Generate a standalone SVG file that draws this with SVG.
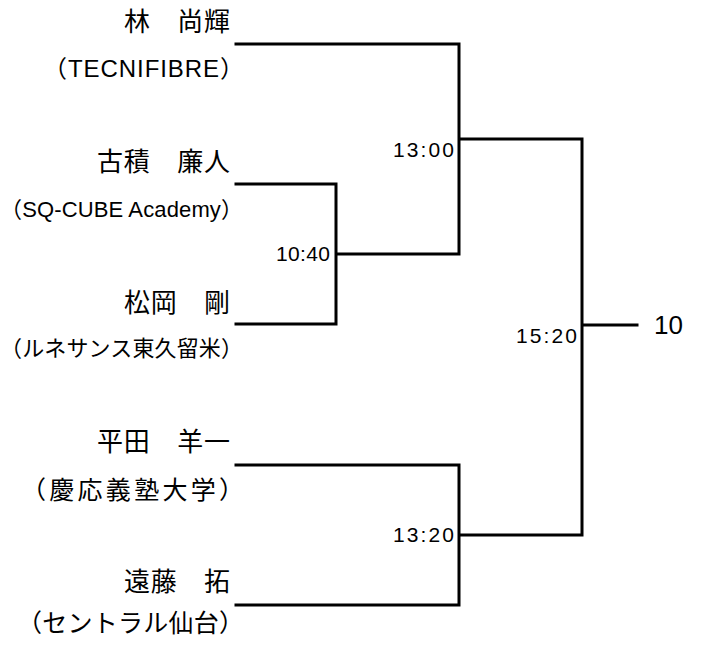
<svg xmlns="http://www.w3.org/2000/svg" width="706" height="648" viewBox="0 0 706 648">
<style>
.name{font-family:"Noto Sans CJK JP","Noto Sans CJK SC",sans-serif;font-size:26px;fill:#000;text-anchor:end}
.aff{font-family:"Liberation Sans","Noto Sans CJK JP",sans-serif;fill:#000;text-anchor:end}
.score{font-family:"Liberation Sans","Noto Sans CJK JP",sans-serif;font-size:21px;fill:#000}
.res{font-family:"Liberation Sans",sans-serif;font-size:26px;fill:#000}
.ln{stroke:#000;stroke-width:3;fill:none;stroke-linecap:square}
</style>
<rect width="706" height="648" fill="#fff"/>
<g id="connectors">
<path class="ln" d="M236,44 H459 V254 M236,184 H336 V324 H236 M336,254 H459 M459,139 H582 V535 M236,465 H459 V605 H236 M459,535 H582 M582,325 H637"/>
</g>
<g id="player1">
<text class="name" x="230" y="31" textLength="106" lengthAdjust="spacing">林　尚輝</text>
<text class="aff" x="244" y="77" font-size="24" textLength="201" lengthAdjust="spacing">（TECNIFIBRE）</text>
</g>
<g id="player2">
<text class="name" x="230" y="171" textLength="133" lengthAdjust="spacing">古積　廉人</text>
<text class="aff" x="243" y="217" font-size="22" textLength="243" lengthAdjust="spacing">（SQ-CUBE Academy）</text>
</g>
<g id="player3">
<text class="name" x="230" y="312" textLength="106" lengthAdjust="spacing">松岡　剛</text>
<text class="aff" x="243" y="356" font-size="22" textLength="243" lengthAdjust="spacing">（ルネサンス東久留米）</text>
</g>
<g id="player4">
<text class="name" x="230" y="451" textLength="133" lengthAdjust="spacing">平田　羊一</text>
<text class="aff" x="244" y="499" font-size="25" textLength="223" lengthAdjust="spacing">（慶応義塾大学）</text>
</g>
<g id="player5">
<text class="name" x="230" y="591" textLength="106" lengthAdjust="spacing">遠藤　拓</text>
<text class="aff" x="244" y="632" font-size="25" textLength="227" lengthAdjust="spacing">（セントラル仙台）</text>
</g>
<g id="match1"><text class="score" x="276" y="261" textLength="54" lengthAdjust="spacing">10:40</text></g>
<g id="match2"><text class="score" x="393" y="157" textLength="61" lengthAdjust="spacing">13:00</text></g>
<g id="match3"><text class="score" x="393" y="542" textLength="61" lengthAdjust="spacing">13:20</text></g>
<g id="match4"><text class="score" x="516" y="343" textLength="61" lengthAdjust="spacing">15:20</text></g>
<g id="result"><text class="res" x="654" y="334">10</text></g>
</svg>
